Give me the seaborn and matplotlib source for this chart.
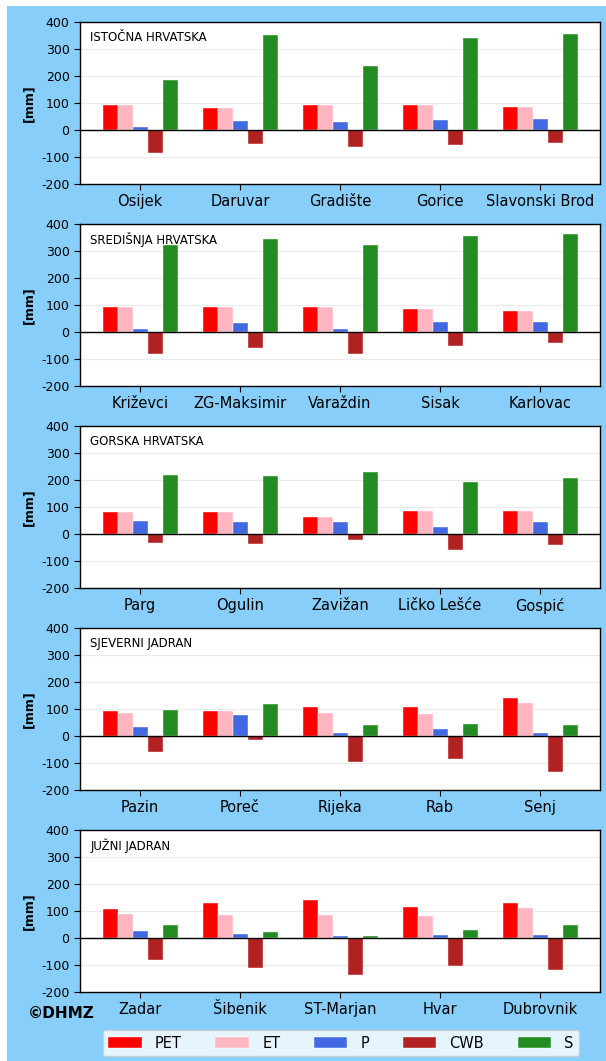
import matplotlib
matplotlib.use("Agg")
import matplotlib.pyplot as plt
import matplotlib.patches as mpatches
import numpy as np
import pandas as pd
import seaborn as sns

# podaci po regijama
regije = ["ISTOČNA HRVATSKA", "SREDIŠNJA HRVATSKA", "GORSKA HRVATSKA",
          "SJEVERNI JADRAN", "JUŽNI JADRAN"]

postaje = [
    ["Osijek", "Daruvar", "Gradište", "Gorice", "Slavonski Brod"],
    ["Križevci", "ZG-Maksimir", "Varaždin", "Sisak", "Karlovac"],
    ["Parg", "Ogulin", "Zavižan", "Ličko Lešće", "Gospić"],
    ["Pazin", "Poreč", "Rijeka", "Rab", "Senj"],
    ["Zadar", "Šibenik", "ST-Marjan", "Hvar", "Dubrovnik"],
]

pet = [
    [94, 83, 94, 94, 85],
    [92, 93, 92, 86, 78],
    [80, 82, 63, 86, 84],
    [93, 92, 108, 108, 141],
    [109, 128, 142, 116, 131],
]
et = [
    [93, 83, 94, 94, 85],
    [92, 93, 92, 86, 78],
    [80, 82, 63, 84, 84],
    [87, 92, 86, 82, 122],
    [89, 86, 84, 80, 112],
]
p = [
    [11, 33, 31, 37, 40],
    [12, 32, 10, 37, 38],
    [48, 46, 43, 27, 43],
    [34, 77, 12, 26, 11],
    [26, 15, 7, 11, 11],
]
cwb = [
    [-84, -51, -62, -57, -47],
    [-82, -60, -82, -50, -40],
    [-32, -37, -21, -59, -41],
    [-59, -16, -96, -85, -132],
    [-83, -112, -136, -105, -120],
]
s = [
    [184, 353, 238, 341, 356],
    [324, 343, 323, 357, 364],
    [218, 213, 229, 194, 209],
    [96, 119, 41, 44, 39],
    [49, 23, 9, 31, 48],
]

varijable = ["PET", "ET", "P", "CWB", "S"]
boje = ["#ff0000", "#ffb6c1", "#4169e1", "#b22222", "#228b22"]

plt.rcParams["font.family"] = ["DejaVu Sans"]
plt.rcParams["axes.unicode_minus"] = False

fig, axes = plt.subplots(5, 1, figsize=(6.06, 10.61), dpi=100)
fig.patch.set_facecolor("white")
# plava pozadina (bijeli rub gore i lijevo)
fig.patches.append(mpatches.Rectangle((7 / 606, 0), 1, 1 - 6 / 1061,
                                      transform=fig.transFigure,
                                      facecolor="#87cefa", edgecolor="none",
                                      zorder=-10))
fig.subplots_adjust(left=80 / 606, right=600 / 606, top=1 - 22 / 1061,
                    bottom=1 - 992 / 1061, hspace=40 / 162)

for i, ax in enumerate(axes):
    redovi = []
    for j, post in enumerate(postaje[i]):
        for var, vals in zip(varijable, [pet, et, p, cwb, s]):
            redovi.append({"postaja": post, "var": var, "mm": vals[i][j]})
    df = pd.DataFrame(redovi)
    sns.barplot(data=df, x="postaja", y="mm", hue="var", hue_order=varijable,
                palette=boje, order=postaje[i], width=0.75, gap=0,
                saturation=1, edgecolor="white", linewidth=0.3, ax=ax,
                legend=(i == 0), zorder=3)
    ax.set_facecolor("white")
    ax.set_xlim(-0.6, 4.6)
    ax.set_ylim(-200, 400)
    ax.set_yticks(np.arange(-200, 401, 100))
    ax.grid(axis="y", color="#ebebeb", linewidth=0.8, zorder=0)
    ax.set_axisbelow(True)
    ax.axhline(0, color="black", linewidth=1, zorder=4)
    ax.set_xlabel("")
    ax.set_ylabel("[mm]", fontsize=9, fontweight="bold", labelpad=4)
    ax.tick_params(axis="x", labelsize=10.5, length=4)
    ax.tick_params(axis="y", labelsize=9, length=4)
    for sp in ax.spines.values():
        sp.set_color("black")
        sp.set_linewidth(1)
    ax.text(0.02, 0.905, regije[i], transform=ax.transAxes, fontsize=8.5,
            va="center", ha="left")

handles, labels = axes[0].get_legend_handles_labels()
axes[0].get_legend().remove()
fig.legend(handles, labels, loc="center", bbox_to_anchor=(341 / 606, 1 - 1043 / 1061),
           ncol=5, fontsize=10.5, handlelength=2.3, handletextpad=0.9,
           columnspacing=2.3, frameon=True, framealpha=0.8, borderpad=0.4)

fig.text(28 / 606, 1 - 1013 / 1061, "©DHMZ", fontsize=11, fontweight="bold",
         ha="left", va="center")

fig.savefig("out.png", dpi=100)
